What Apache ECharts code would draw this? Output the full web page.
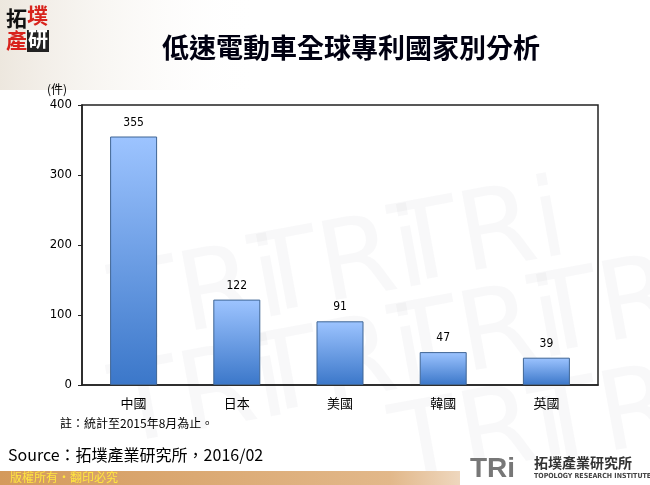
<!DOCTYPE html>
<html><head><meta charset="utf-8">
<script src="https://cdn.jsdelivr.net/npm/echarts@6/dist/echarts.min.js"></script>
<style>html,body{margin:0;padding:0;background:#fff}#c{width:650px;height:485px}</style>
</head><body><div id="c"></div>
<script>
const categories = ['中國','日本','美國','韓國','英國'];
const values = [355,122,91,47,39];
const yTicks = [0,100,200,300,400];

const chart = echarts.init(document.getElementById('c'));
const wm = [];
const wmPos = [[200,300],[340,270],[480,240],[200,400],[340,370],[480,340],[620,310],[620,420],[480,440]];
wmPos.forEach(p => wm.push({type:'text', x:p[0], y:p[1], rotation:0.18, z:-10,
  style:{text:'TRi', font:'110px "DejaVu Sans"', fill:'rgba(200,200,205,0.13)', align:'center', verticalAlign:'middle'}}));

chart.setOption({
  animation:false,
  backgroundColor:'#fff',
  grid:{left:82, right:52, top:105, bottom:100, show:true, borderColor:'#222', borderWidth:1.5, backgroundColor:'transparent'},
  xAxis:{type:'category', data:categories,
    axisLine:{lineStyle:{color:'#222', width:1.5}}, axisTick:{show:false},
    axisLabel:{color:'#000', fontSize:13, margin:12, fontFamily:'"Noto Sans CJK TC"'}},
  yAxis:{type:'value', min:0, max:400, interval:100, splitLine:{show:false},
    axisLine:{show:true, lineStyle:{color:'#222', width:1.5}},
    axisTick:{show:true, length:4, lineStyle:{color:'#222'}},
    axisLabel:{color:'#000', fontSize:13, margin:10, fontFamily:'"DejaVu Sans Condensed"',
      formatter:v => yTicks.includes(v) ? String(v) : ''}},
  series:[{type:'bar', data:values, barWidth:47,
    itemStyle:{borderColor:'#3f6594', borderWidth:1,
      color:new echarts.graphic.LinearGradient(0,0,0,1,[{offset:0,color:'#9dc4ff'},{offset:1,color:'#3b77c9'}])},
    label:{show:true, position:'top', distance:8, color:'#000', fontSize:12, fontFamily:'"DejaVu Sans Condensed"'}}],
  graphic:[
    ...wm,
    {type:'rect', shape:{x:0,y:0,width:260,height:90}, z:-20,
      style:{fill:new echarts.graphic.LinearGradient(0,0,1,0,[{offset:0,color:'rgba(225,215,200,0.6)'},{offset:1,color:'rgba(255,255,255,0)'}])}},
    {type:'rect', shape:{x:26,y:8,width:22,height:22}, style:{fill:'#f4f0ea'}},
    {type:'text', x:6, y:8, style:{text:'拓', font:'bold 21px "Noto Sans CJK TC"', fill:'#111'}},
    {type:'text', x:27, y:5, style:{text:'墣', font:'bold 21px "Noto Sans CJK TC"', fill:'#d8231c'}},
    {type:'rect', shape:{x:27,y:30,width:22,height:22}, style:{fill:'#222'}},
    {type:'text', x:6, y:30, style:{text:'產', font:'bold 21px "Noto Sans CJK TC"', fill:'#d8231c'}},
    {type:'text', x:28, y:29, style:{text:'研', font:'bold 20px "Noto Sans CJK TC"', fill:'#fff'}},
    {type:'text', x:351, y:48, style:{text:'低速電動車全球專利國家別分析', font:'bold 27px "Noto Sans CJK TC"', fill:'#001', align:'center', verticalAlign:'middle', textShadowColor:'rgba(60,90,160,0.7)', textShadowOffsetX:1.5, textShadowOffsetY:1.5, textShadowBlur:0}},
    {type:'text', x:47, y:83, style:{text:'(件)', font:'12px "Noto Sans CJK TC"', fill:'#000'}},
    {type:'text', x:60, y:417, style:{text:'註：統計至2015年8月為止。', font:'12px "Noto Sans CJK TC"', fill:'#000'}},
    {type:'text', x:8, y:447, style:{text:'Source：拓墣產業研究所，2016/02', font:'16px "Noto Sans CJK TC"', fill:'#000'}},
    {type:'rect', shape:{x:0,y:471,width:650,height:14},
      style:{fill:new echarts.graphic.LinearGradient(0,0,1,0,[{offset:0,color:'#d49a5c'},{offset:0.6,color:'#e2b88a'},{offset:0.75,color:'#f3e3d2'},{offset:1,color:'#ffffff'}])}},
    {type:'rect', shape:{x:460,y:462,width:190,height:23}, style:{fill:'#fff'}},
    {type:'text', x:10, y:471, style:{text:'版權所有‧翻印必究', font:'12px "Noto Sans CJK TC"', fill:'#ffe640'}},
    {type:'text', x:470, y:455, style:{text:'TRi', font:'bold 28px "Liberation Sans"', fill:'#777'}},
    {type:'text', x:534, y:456, style:{text:'拓墣產業研究所', font:'bold 14px "Noto Sans CJK TC"', fill:'#333'}},
    {type:'text', x:534, y:473, style:{text:'TOPOLOGY RESEARCH INSTITUTE', font:'bold 7px "DejaVu Sans Condensed"', fill:'#444'}}
  ]
});
</script></body></html>
